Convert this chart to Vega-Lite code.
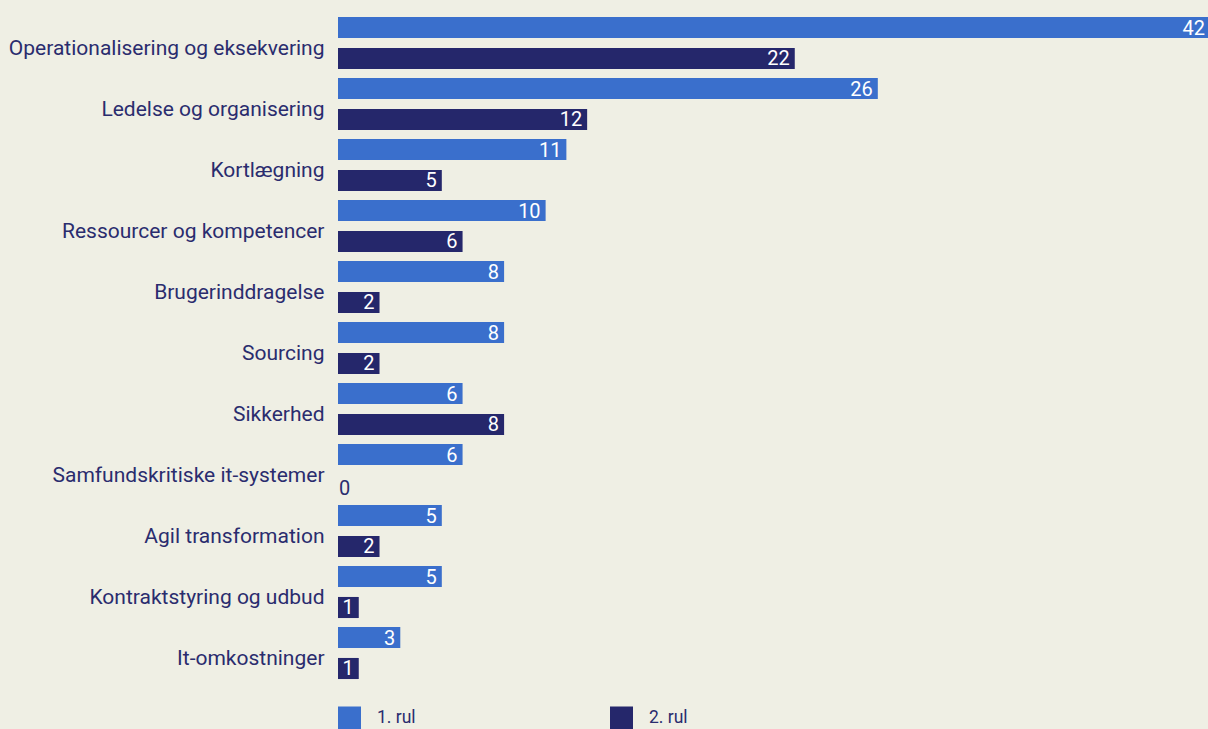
{
  "$schema": "https://vega.github.io/schema/vega-lite/v6.json",
  "autosize": {"type": "none"},
  "padding": {"left": 338, "top": 12.5, "right": 0, "bottom": 45.5},
  "width": 872,
  "height": 671,
  "background": "#EFEFE4",
  "config": {
    "view": {"stroke": null},
    "font": "Roboto",
    "text": {"font": "Roboto"}
  },
  "data": {
    "values": [
      {"omraade": "Operationalisering og eksekvering", "rul": "1. rul", "antal": 42},
      {"omraade": "Operationalisering og eksekvering", "rul": "2. rul", "antal": 22},
      {"omraade": "Ledelse og organisering", "rul": "1. rul", "antal": 26},
      {"omraade": "Ledelse og organisering", "rul": "2. rul", "antal": 12},
      {"omraade": "Kortlægning", "rul": "1. rul", "antal": 11},
      {"omraade": "Kortlægning", "rul": "2. rul", "antal": 5},
      {"omraade": "Ressourcer og kompetencer", "rul": "1. rul", "antal": 10},
      {"omraade": "Ressourcer og kompetencer", "rul": "2. rul", "antal": 6},
      {"omraade": "Brugerinddragelse", "rul": "1. rul", "antal": 8},
      {"omraade": "Brugerinddragelse", "rul": "2. rul", "antal": 2},
      {"omraade": "Sourcing", "rul": "1. rul", "antal": 8},
      {"omraade": "Sourcing", "rul": "2. rul", "antal": 2},
      {"omraade": "Sikkerhed", "rul": "1. rul", "antal": 6},
      {"omraade": "Sikkerhed", "rul": "2. rul", "antal": 8},
      {"omraade": "Samfundskritiske it-systemer", "rul": "1. rul", "antal": 6},
      {"omraade": "Samfundskritiske it-systemer", "rul": "2. rul", "antal": 0},
      {"omraade": "Agil transformation", "rul": "1. rul", "antal": 5},
      {"omraade": "Agil transformation", "rul": "2. rul", "antal": 2},
      {"omraade": "Kontraktstyring og udbud", "rul": "1. rul", "antal": 5},
      {"omraade": "Kontraktstyring og udbud", "rul": "2. rul", "antal": 1},
      {"omraade": "It-omkostninger", "rul": "1. rul", "antal": 3},
      {"omraade": "It-omkostninger", "rul": "2. rul", "antal": 1}
    ]
  },
  "encoding": {
    "y": {
      "field": "omraade", "type": "nominal", "sort": null, "title": null,
      "scale": {"paddingInner": 0, "paddingOuter": 0},
      "axis": {"domain": false, "ticks": false, "labelPadding": 14, "labelFontSize": 21, "labelColor": "#2A2C6E", "labelOffset": 6, "labelLimit": 400, "labelFont": "Roboto"}
    },
    "yOffset": {
      "field": "rul", "type": "nominal",
      "scale": {"paddingInner": 0.32, "paddingOuter": 0.144}
    },
    "x": {
      "field": "antal", "type": "quantitative", "title": null,
      "scale": {"domain": [0, 42], "nice": false},
      "axis": null
    }
  },
  "layer": [
    {
      "mark": {"type": "bar", "cornerRadius": 0},
      "encoding": {
        "color": {
          "field": "rul", "type": "nominal", "title": null,
          "scale": {"domain": ["1. rul", "2. rul"], "range": ["#3A6FCC", "#25276B"]},
          "legend": {
            "orient": "none", "direction": "horizontal", "legendX": 0, "legendY": 694,
            "symbolType": "square", "symbolSize": 529, "symbolStrokeWidth": 0, "symbolOpacity": 1,
            "labelFontSize": 17.5, "labelColor": "#2A2C6E", "labelFont": "Roboto",
            "labelOffset": 16, "columnPadding": 194, "padding": 0
          }
        }
      }
    },
    {
      "transform": [{"filter": "datum.antal > 0"}],
      "mark": {"type": "text", "align": "right", "baseline": "middle", "dx": -5, "dy": 1, "color": "white", "fontSize": 20, "font": "Roboto"},
      "encoding": {"text": {"field": "antal", "type": "quantitative"}}
    },
    {
      "transform": [{"filter": "datum.antal == 0"}],
      "mark": {"type": "text", "align": "left", "baseline": "middle", "dx": 1, "dy": 4, "color": "#2A2C6E", "fontSize": 20, "font": "Roboto"},
      "encoding": {"text": {"field": "antal", "type": "quantitative"}}
    }
  ]
}
